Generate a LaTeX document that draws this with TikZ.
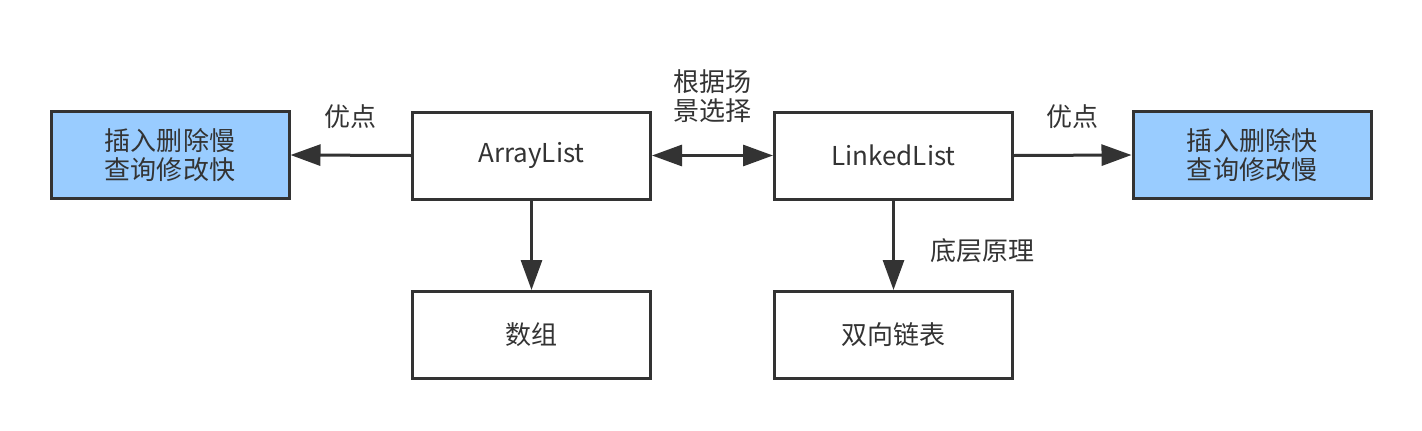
\documentclass[tikz,border=0pt]{standalone}
\usepackage{fontspec}
\setmainfont{Noto Sans CJK SC}
\usetikzlibrary{arrows.meta}
\definecolor{linegray}{HTML}{333333}
\definecolor{boxblue}{HTML}{99CCFF}
\begin{document}
\begin{tikzpicture}[box/.style = {rectangle, draw=linegray, line width=0.06cm, align=center, minimum width=4.76cm, minimum height=1.74cm, inner sep=0, text=linegray, font=\fontsize{14.8}{16.8}\selectfont},
                    note/.style = {align=center, text=linegray, inner sep=0, font=\fontsize{14.8}{16.8}\selectfont},
                    link/.style = {-{Triangle[length=0.6cm, width=0.42cm]}, draw=linegray, line width=0.06cm}]
    \useasboundingbox (0,0) rectangle (28.44,-8.6);

    \node[box, fill=boxblue] (slow)   at (3.4,-3.1)    {插入删除慢\\查询修改快};
    \node[box]               (array)  at (10.63,-3.11) {ArrayList};
    \node[box]               (linked) at (17.87,-3.11) {LinkedList};
    \node[box, fill=boxblue] (fast)   at (25.04,-3.1)  {插入删除快\\查询修改慢};
    \node[box]               (arr)    at (10.63,-6.7)  {数组};
    \node[box]               (dll)    at (17.87,-6.7)  {双向链表};

    \draw[link] (array.west)  -- node[note, midway, above=0.5cm] {优点} (slow.east);
    \draw[link, {Triangle[length=0.6cm, width=0.42cm]}-{Triangle[length=0.6cm, width=0.42cm]}]
                (array.east)  -- node[note, midway, above=0.62cm] {根据场\\景选择} (linked.west);
    \draw[link] (linked.east) -- node[note, midway, above=0.5cm] {优点} (fast.west);
    \draw[link] (array.south) -- (arr.north);
    \draw[link] (linked.south) -- node[note, midway, right=0.7cm, yshift=-0.1cm] {底层原理} (dll.north);
  \end{tikzpicture}
\end{document}
